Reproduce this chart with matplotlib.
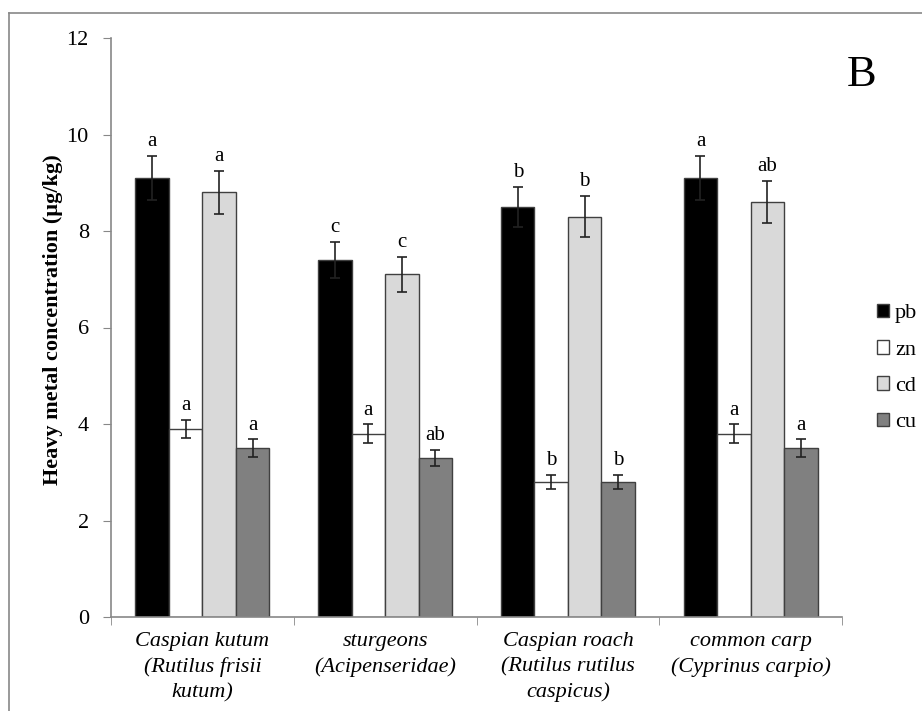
import numpy as np
import matplotlib
matplotlib.use("Agg")
from matplotlib import pyplot as plt
from matplotlib.lines import Line2D

plt.rcParams['font.family'] = ['Liberation Serif', 'DejaVu Serif']

# data
categories = ['Caspian kutum\n(Rutilus frisii\nkutum)', 'sturgeons\n(Acipenseridae)',
              'Caspian roach\n(Rutilus rutilus\ncaspicus)', 'common carp\n(Cyprinus carpio)']
metals = ['pb', 'zn', 'cd', 'cu']
pb = [9.1, 7.4, 8.5, 9.1]
zn = [3.9, 3.8, 2.8, 3.8]
cd = [8.8, 7.1, 8.3, 8.6]
cu = [3.5, 3.3, 2.8, 3.5]
pb_err = [0.45, 0.37, 0.42, 0.45]
zn_err = [0.19, 0.19, 0.14, 0.19]
cd_err = [0.44, 0.36, 0.42, 0.43]
cu_err = [0.18, 0.17, 0.14, 0.18]
pb_let = ['a', 'c', 'b', 'a']
zn_let = ['a', 'a', 'b', 'a']
cd_let = ['a', 'c', 'b', 'ab']
cu_let = ['a', 'ab', 'b', 'a']

values = [pb, zn, cd, cu]
errors = [pb_err, zn_err, cd_err, cu_err]
letters = [pb_let, zn_let, cd_let, cu_let]
colors = ['#000000', '#ffffff', '#d9d9d9', '#808080']

W, H = 922, 711
fig = plt.figure(figsize=(W / 100, H / 100), dpi=100)
ax = fig.add_axes([111 / W, (H - 617) / H, 731 / W, 579 / H])

x = np.arange(len(categories))
w = 0.183
for i, m in enumerate(metals):
    pos = x + (i - 1.5) * w
    ax.bar(pos, values[i], w, color=colors[i], edgecolor='#404040', linewidth=1.0,
           label=m, zorder=2)
    ax.errorbar(pos, values[i], yerr=errors[i], fmt='none', ecolor='#222222',
                elinewidth=1.2, capsize=3.3, capthick=1.2, zorder=3)
    for p, v, e, t in zip(pos, values[i], errors[i], letters[i]):
        ax.text(p, v + e + 0.1, t, ha='center', va='bottom', fontsize=15)

ax.set_xlim(-0.5, len(categories) - 0.5)
ax.set_ylim(0, 12)
ax.set_yticks(np.arange(0, 13, 2))
ax.tick_params(axis='y', labelsize=16, length=6, color='#888888', pad=10)
ax.set_xticks(x)
ax.set_xticklabels(categories, fontsize=16, style='italic', linespacing=1.4)
ax.tick_params(axis='x', length=0, pad=11)
ax.set_xticks(np.arange(-0.5, len(categories)), minor=True)
ax.tick_params(axis='x', which='minor', length=6, color='#888888', direction='out')

for s in ['top', 'right']:
    ax.spines[s].set_visible(False)
for s in ['left', 'bottom']:
    ax.spines[s].set_color('#888888')
    ax.spines[s].set_linewidth(1.2)

fig.text(53 / W, 1 - 320 / H, 'Heavy metal concentration (µg/kg)', rotation=90,
         ha='center', va='center', fontsize=16, fontweight='bold')

fig.text(862 / W, 1 - 75 / H, 'B', fontsize=32, ha='center', va='center')

leg = ax.legend(loc='center left', bbox_to_anchor=(866 / W, 1 - 368 / H),
                bbox_transform=fig.transFigure, frameon=False, fontsize=16,
                handlelength=0.55, handleheight=0.55, handletextpad=0.25,
                labelspacing=0.75, borderpad=0)
for h in leg.legend_handles:
    h.set_edgecolor('#404040')

# outer frame
fig.add_artist(Line2D([9 / W, 9 / W], [0, 1 - 13 / H], transform=fig.transFigure,
                      color='#888888', lw=1.2))
fig.add_artist(Line2D([9 / W, 1], [1 - 13 / H, 1 - 13 / H], transform=fig.transFigure,
                      color='#888888', lw=1.2))

fig.savefig('out.png', dpi=100)
